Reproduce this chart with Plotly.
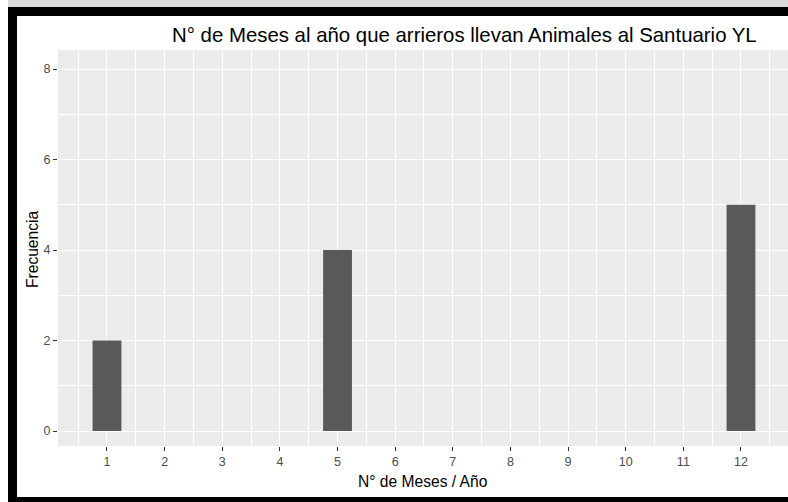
import plotly.graph_objects as go

# ---- data ----
meses = [1, 5, 12]
frecuencia = [2, 4, 5]
x_ticks = list(range(1, 13))
y_ticks = [0, 2, 4, 6, 8]

title_text = "N° de Meses al año que arrieros llevan Animales al Santuario YL"
x_title = "N° de Meses / Año"
y_title = "Frecuencia"

W, H = 788, 502
ML, MR, MT, MB = 58, 0, 50, 56
PW, PH = W - ML - MR, H - MT - MB

def px_x(px):
    return (px - ML) / PW

def px_y(py):
    return (H - MB - py) / PH

FONT = "Liberation Sans, Arial, sans-serif"

fig = go.Figure()
fig.add_trace(go.Bar(
    x=meses, y=frecuencia, width=0.5,
    marker=dict(color="#595959", line=dict(width=0)),
    hoverinfo="x+y",
))

fig.update_layout(
    width=W, height=H,
    margin=dict(l=ML, r=MR, t=MT, b=MB, autoexpand=False),
    paper_bgcolor="white",
    plot_bgcolor="#EBEBEB",
    showlegend=False,
    font=dict(family=FONT),
    xaxis=dict(
        range=[0.15, 12.816],
        tickmode="array", tickvals=x_ticks, ticktext=[str(v) for v in x_ticks],
        showgrid=True, gridcolor="white", gridwidth=1.1,
        zeroline=False, showline=False,
        ticks="outside", ticklen=4, tickwidth=1, tickcolor="#333333",
        tickfont=dict(size=12.5, color="#4D4D4D", family=FONT),
        minor=dict(tickmode="array", tickvals=[v + 0.5 for v in range(0, 13)],
                   showgrid=True, gridcolor="white", gridwidth=0.5, ticks=""),
    ),
    yaxis=dict(
        range=[-0.331, 8.42],
        tickmode="array", tickvals=y_ticks, ticktext=[str(v) for v in y_ticks],
        showgrid=True, gridcolor="white", gridwidth=1.1,
        zeroline=False, showline=False,
        ticks="outside", ticklen=4, tickwidth=1, tickcolor="#333333",
        tickfont=dict(size=12.5, color="#4D4D4D", family=FONT),
        minor=dict(tickmode="array", tickvals=[1, 3, 5, 7],
                   showgrid=True, gridcolor="white", gridwidth=0.5, ticks=""),
    ),
)

# frame of the screenshot
shapes = [
    dict(type="rect", xref="paper", yref="paper",
         x0=px_x(8), x1=px_x(790), y0=px_y(0), y1=px_y(7),
         fillcolor="#DADADA", line=dict(width=0), layer="above"),
    dict(type="rect", xref="paper", yref="paper",
         x0=px_x(8), x1=px_x(790), y0=px_y(7), y1=px_y(16),
         fillcolor="black", line=dict(width=0), layer="above"),
    dict(type="rect", xref="paper", yref="paper",
         x0=px_x(8), x1=px_x(17), y0=px_y(7), y1=px_y(503),
         fillcolor="black", line=dict(width=0), layer="above"),
    dict(type="rect", xref="paper", yref="paper",
         x0=px_x(8), x1=px_x(790), y0=px_y(497), y1=px_y(503),
         fillcolor="black", line=dict(width=0), layer="above"),
]
fig.update_layout(shapes=shapes)

fig.add_annotation(text=title_text, xref="paper", yref="paper",
                   x=px_x(464), y=px_y(35), xanchor="center", yanchor="middle",
                   showarrow=False, font=dict(size=20.4, color="black", family=FONT))
fig.add_annotation(text=x_title, xref="paper", yref="paper",
                   x=px_x(423), y=px_y(481), xanchor="center", yanchor="middle",
                   showarrow=False, font=dict(size=15.6, color="black", family=FONT))
fig.add_annotation(text=y_title, xref="paper", yref="paper",
                   x=px_x(33), y=px_y(250), xanchor="center", yanchor="middle",
                   textangle=-90,
                   showarrow=False, font=dict(size=15.6, color="black", family=FONT))

fig.write_html("out.html",
               config={"displayModeBar": False},
               post_script="document.body.style.margin='0';"
                           "document.body.style.overflow='hidden';")
